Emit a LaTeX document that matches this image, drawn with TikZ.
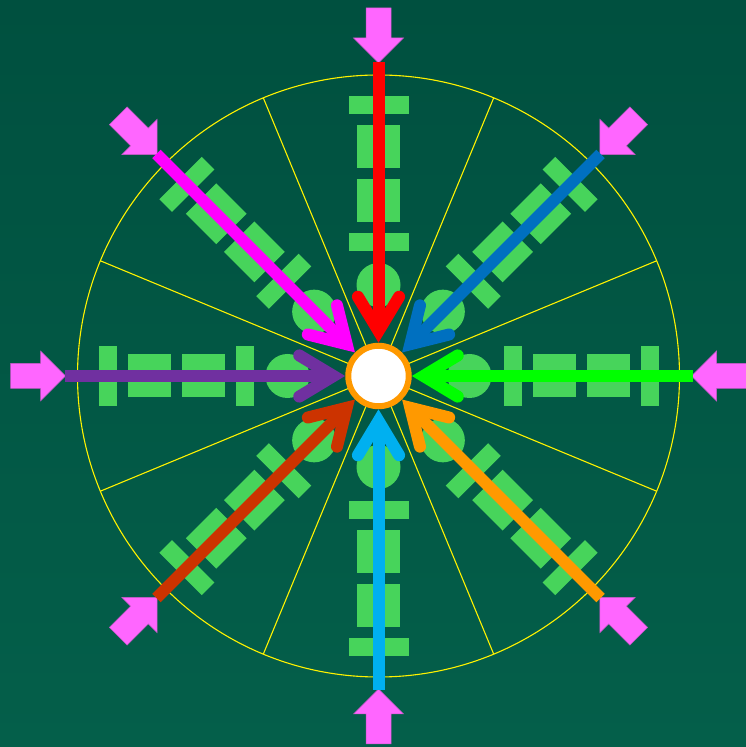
\documentclass[tikz,border=0pt]{standalone}
\usetikzlibrary{calc}
\definecolor{bgtop}{HTML}{00503F}
\definecolor{bgbot}{HTML}{045F4A}
\definecolor{barg}{HTML}{47D45B}
\definecolor{pinkc}{HTML}{FF66FF}
\definecolor{pinkedge}{HTML}{C858C8}
\definecolor{cRed}{HTML}{FF0000}
\definecolor{cBlue}{HTML}{0070C0}
\definecolor{cGreen}{HTML}{00FF00}
\definecolor{cOrange}{HTML}{FF9900}
\definecolor{cSky}{HTML}{00B0F0}
\definecolor{cRust}{HTML}{CC3300}
\definecolor{cPurple}{HTML}{7030A0}
\definecolor{cMagenta}{HTML}{FF00FF}
\tikzset{
  yline/.style={draw=yellow, line width=1.1pt},
  greenbit/.style={fill=barg},
  pinkarrow/.style={fill=pinkc, draw=pinkedge, line width=0.5pt},
  shaftline/.style={line width=12pt, line cap=butt},
  headline/.style={line width=12pt, line cap=round, line join=miter},
  hub/.style={circle, draw=cOrange, fill=white, line width=6pt, minimum size=60.5pt, inner sep=0pt}
}
\begin{document}
\begin{tikzpicture}[x=1pt,y=1pt]
\shade[top color=bgtop,bottom color=bgbot] (0,0) rectangle (746,747);
\useasboundingbox (0,0) rectangle (746,747);
\coordinate (O) at (378.5,371);
% yellow circle and sector lines
\draw[yline] (O) circle (301);
\foreach \a in {22.5,67.5,...,337.5} \draw[yline] (O) -- ++(\a:301);
% green patterns
\foreach \a in {0,45,...,315}{
  \begin{scope}[shift={(O)}, rotate=\a]
    \fill[greenbit] (262,-30) rectangle (280,30);
    \fill[greenbit] (208,-21.5) rectangle (251,21.5);
    \fill[greenbit] (154,-21.5) rectangle (197,21.5);
    \fill[greenbit] (125,-30) rectangle (143,30);
    \fill[greenbit] (91,0) circle (22);
  \end{scope}
}
% pink block arrows
\foreach \a in {0,45,...,315}{
  \begin{scope}[shift={(O)}, rotate=\a]
    \draw[pinkarrow] (368,-12.5) -- (338,-12.5) -- (338,-25) -- (313,0) -- (338,25) -- (338,12.5) -- (368,12.5) -- cycle;
  \end{scope}
}
% coloured arrows
\foreach \a/\c [count=\i] in {90/cRed,45/cBlue,0/cGreen,-45/cOrange,-90/cSky,225/cRust,180/cPurple,135/cMagenta}{
  \begin{scope}[shift={(O)}, rotate=\a]
    \coordinate (s\i) at (314,0);
    \coordinate (v\i) at (45,0);
    \coordinate (l\i) at (79.3,20.6);
    \coordinate (r\i) at (79.3,-20.6);
    \draw[shaftline, draw=\c] (s\i) -- (v\i);
    \draw[headline, draw=\c] (l\i) -- (v\i) -- (r\i);
  \end{scope}
}
\node[hub] (c) at (O) {};
\end{tikzpicture}
\end{document}
